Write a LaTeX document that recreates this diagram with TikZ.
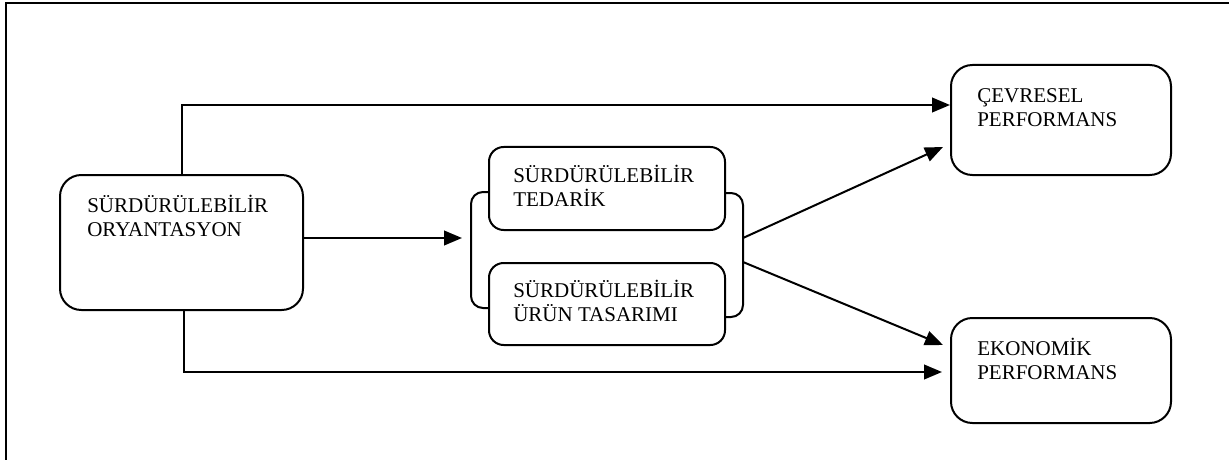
\documentclass[tikz,border=0pt]{standalone}
\usepackage{fontspec}
\setmainfont{Liberation Serif}
\usetikzlibrary{arrows.meta,fit,calc}
\begin{document}
\begin{tikzpicture}[x=0.75pt,y=-0.75pt,
  box/.style={draw,line width=1.5pt,fill=white,rounded corners=16pt,inner sep=0pt},
  ibox/.style={box,rounded corners=11pt},
  lbl/.style={anchor=north west,inner sep=0pt,align=left,font=\fontsize{15.75}{18.3}\selectfont},
  arr/.style={line width=1.5pt,-{Triangle[length=13.5pt,width=11pt]}},
  brk/.style={line width=1.5pt,rounded corners=9pt},
  frame/.style={line width=1.6pt}]
\useasboundingbox (0,0) rectangle (1229,460);
% outer frame (only top and left sides visible)
\draw[frame] (6,460) -- (6,3) -- (1229,3);
% bracket behind the two middle boxes
\draw[brk] (489,192) -| (471,308) -- (489,308);
\draw[brk] (725,193) -| (743,317) -- (725,317);
% boxes
\node[box,fit={(60,175) (303,310)}] (so) {};
\node[box,fit={(951,65) (1171,175)}] (cp) {};
\node[box,fit={(951,318) (1171,423)}] (ep) {};
\node[ibox,fit={(489,147) (725,230)}] (st) {};
\node[ibox,fit={(489,263) (725,345)}] (su) {};
% labels
\node[lbl] (tso) at (87,193) {\rule{0pt}{0.9em}SÜRDÜRÜLEBİLİR\\ORYANTASYON};
\node[lbl] (tcp) at (977,83) {\rule{0pt}{0.9em}ÇEVRESEL\\PERFORMANS};
\node[lbl] (tep) at (977,336) {\rule{0pt}{0.9em}EKONOMİK\\PERFORMANS};
\node[lbl] (tst) at (513,163) {\rule{0pt}{0.9em}SÜRDÜRÜLEBİLİR\\TEDARİK};
\node[lbl] (tsu) at (513,278) {\rule{0pt}{0.9em}SÜRDÜRÜLEBİLİR\\ÜRÜN TASARIMI};
% named connector ends
\coordinate (bl) at (462,238);
\coordinate (br1) at (743,238);
\coordinate (br2) at (743,262);
\coordinate (cpin) at (943,147);
\coordinate (epin) at (943,345);
% connectors
\draw[arr] ($(so.north)+(0.5,0)$) |- (cp.west |- 0,105);
\draw[arr] ($(so.south)+(2.5,0)$) |- ($(ep.west |- 0,372)+(-8,0)$);
\draw[arr] (so.east |- bl) -- (bl);
\draw[arr] (br1) -- (cpin);
\draw[arr] (br2) -- (epin);
\end{tikzpicture}
\end{document}
